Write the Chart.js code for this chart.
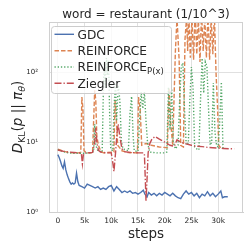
<!DOCTYPE html>
<html>
<head>
<meta charset="utf-8">
<script src="https://cdn.jsdelivr.net/npm/chart.js@4"></script>
<style>
html, body { margin: 0; padding: 0; background: #fff; }
</style>
</head>
<body>
<canvas id="klChart" width="251" height="251"></canvas>
<script>
// KL divergence per training step, word = restaurant

var titleText = 'word = restaurant (1/10^3)';
var xTicks = [0, 5000, 10000, 15000, 20000, 25000, 30000];
var yTicks = [1, 10, 100];
var yTickLabels = ['10\u2070', '10\u00b9', '10\u00b2'];

var gdcSteps = [0, 250, 500, 750, 1000, 1250, 1500, 1750, 2000, 2250, 2500, 2750, 3000, 3250, 3500, 3750, 4000, 4500, 5000, 5500, 6000, 6500, 7000, 7500, 8000, 8500, 9000, 9500, 10000, 10500, 11000, 11500, 12000, 12500, 13000, 13500, 14000, 14500, 15000, 15500, 16000, 16300, 16700, 17000, 17500, 18000, 18500, 19000, 19500, 20000, 20500, 21000, 21500, 22000, 22500, 23000, 23500, 24000, 24500, 25000, 25500, 26000, 26500, 27000, 27500, 28000, 28500, 29000, 29500, 30000, 30500, 30800, 31200, 31800];
var gdcValues = [6.6, 6.0, 5.3, 4.6, 4.2, 5.2, 4.0, 3.4, 3.0, 2.7, 2.5, 2.6, 2.5, 2.6, 3.6, 2.7, 2.4, 2.3, 2.2, 2.5, 2.4, 2.3, 2.2, 2.3, 2.1, 2.2, 2.1, 2.3, 2.4, 2.0, 2.3, 2.1, 1.9, 2.0, 1.9, 2.0, 1.85, 1.9, 1.8, 1.9, 2.05, 1.8, 1.65, 1.9, 1.75, 1.85, 1.7, 1.85, 1.75, 1.9, 1.8, 1.7, 1.85, 1.7, 1.6, 1.55, 1.8, 2.0, 1.8, 1.9, 1.7, 1.85, 1.6, 1.8, 1.7, 1.95, 1.7, 1.85, 1.65, 1.8, 2.0, 1.6, 1.65, 1.65];

var reinforceSteps = [0, 1000, 2000, 3000, 4000, 4300, 4500, 4700, 4900, 5500, 6500, 6700, 6900, 7100, 7300, 7600, 8000, 8500, 10500, 10700, 10900, 11200, 12000, 13000, 14900, 15100, 15400, 15700, 16500, 17500, 19000, 20500, 20800, 21100, 21500, 22000, 22300, 22700, 23000, 23500, 23800, 24100, 24300, 24500, 24800, 25100, 25400, 25700, 26000, 26300, 26600, 26900, 27200, 27500, 27800, 28100, 28400, 28700, 29000, 29300, 29600, 29900, 30100, 30500];
var reinforceValues = [7.9, 7.4, 7.1, 7.0, 7.0, 7.2, 44, 30, 7.5, 7.0, 7.0, 20, 55, 40, 12, 9, 7.5, 7.0, 7.2, 40, 25, 9, 7.5, 7.1, 7.0, 44, 30, 9, 9.5, 9, 8.5, 8.3, 60, 20, 9, 200, 600, 150, 9, 8.5, 300, 600, 200, 700, 160, 600, 150, 800, 180, 600, 140, 700, 200, 600, 160, 700, 150, 600, 180, 650, 100, 30, 9, 8.2];

var reinforcePxSteps = [0, 1000, 2000, 3000, 4500, 6000, 6700, 6900, 7100, 7500, 8300, 8500, 8700, 8900, 9100, 9300, 9500, 9700, 9900, 10300, 10500, 10800, 11000, 11300, 11600, 11900, 12200, 13200, 13500, 13800, 14100, 14300, 15000, 15300, 15600, 15900, 16200, 16500, 16800, 17200, 18500, 20000, 20400, 20700, 21000, 21300, 21600, 22000, 22500, 22800, 23100, 23400, 23700, 24000, 24400, 24700, 25000, 25300, 25600, 26000, 26400, 26700, 27000, 27300, 27600, 27900, 28200, 28500, 28800, 29100, 29400, 29700, 30000, 30300, 30600, 30900];
var reinforcePxValues = [7.8, 7.3, 7.0, 6.9, 6.9, 7.0, 7.3, 18, 9, 7.5, 7.2, 45, 140, 60, 160, 90, 150, 25, 8, 7.5, 30, 70, 20, 65, 40, 10, 8, 7.5, 25, 45, 12, 7.5, 7.3, 20, 52, 30, 52, 20, 9.6, 7.2, 7.0, 7.0, 7.2, 61, 15, 58, 10, 8, 9, 40, 120, 135, 30, 10, 9, 40, 118, 60, 8.5, 8, 7.7, 40, 158, 50, 140, 120, 30, 9, 10, 70, 14, 9, 8.5, 20, 72, 8.2];

var zieglerSteps = [0, 1000, 2000, 3000, 4000, 4400, 4600, 4800, 5200, 6500, 6900, 7100, 7300, 7600, 8000, 9000, 10000, 10300, 10500, 10800, 11100, 11300, 11600, 12000, 12500, 13500, 15000, 16000, 16200, 16400, 16500, 16700, 16900, 17200, 17600, 18200, 19000, 20000, 21000, 21800, 22300, 23000, 24000, 25000, 26000, 27000, 28000, 29000, 30000, 31000, 32000, 33000];
var zieglerValues = [7.7, 7.4, 7.2, 7.1, 7.0, 6.9, 4.9, 6.8, 7.0, 7.1, 10, 16, 10, 7.6, 7.2, 7.0, 7.0, 5, 3.8, 7, 14, 18, 12, 8, 7.3, 7.1, 7.0, 7.0, 6.8, 2.5, 1.45, 3.0, 7, 9.5, 11, 12, 11, 10, 9.0, 8.7, 10.8, 10, 9.4, 9.0, 8.7, 8.6, 8.4, 8.3, 8.2, 8.1, 8.0, 8.0];

var fontFamily = '"DejaVu Sans"';
var textColor = '#262626';

function toPoints(steps, values) {
    return steps.map(function (s, i) { return { x: s, y: values[i] }; });
}

var seriesStyles = [
    { label: 'GDC', sub: '', color: '#4C72B0', dash: [] },
    { label: 'REINFORCE', sub: '', color: '#DD8452', dash: [4.5, 2] },
    { label: 'REINFORCE', sub: 'P(x)', color: '#55A868', dash: [1.3, 1.9] },
    { label: 'Ziegler', sub: '', color: '#C44E52', dash: [7, 2, 1.3, 2] }
];

// titles, y label with subscripts, legend and top/right frame
var textPlugin = {
    id: 'textPlugin',
    afterDraw: function (chart) {
        var ctx = chart.ctx;
        var a = chart.chartArea;
        ctx.save();

        ctx.strokeStyle = '#d0d0d0';
        ctx.lineWidth = 1;
        ctx.setLineDash([]);
        ctx.beginPath();
        ctx.moveTo(a.left, a.top + 0.5);
        ctx.lineTo(a.right, a.top + 0.5);
        ctx.moveTo(a.right - 0.5, a.top);
        ctx.lineTo(a.right - 0.5, a.bottom);
        ctx.stroke();

        ctx.fillStyle = textColor;
        ctx.textBaseline = 'alphabetic';
        ctx.textAlign = 'center';
        ctx.font = '12px ' + fontFamily;
        ctx.fillText(titleText, (a.left + a.right) / 2, 18);
        ctx.font = '13.5px ' + fontFamily;
        ctx.fillText('steps', (a.left + a.right) / 2, 238);

        // y label: D_KL(p || pi_theta)
        var parts = [
            { t: 'D', it: true, size: 13.5, dy: 0 },
            { t: 'KL', it: false, size: 9.5, dy: 3 },
            { t: '(', it: false, size: 13.5, dy: 0 },
            { t: 'p', it: true, size: 13.5, dy: 0 },
            { t: ' || ', it: false, size: 13.5, dy: 0 },
            { t: '\u03c0', it: true, size: 13.5, dy: 0 },
            { t: '\u03b8', it: true, size: 9.5, dy: 3 },
            { t: ')', it: false, size: 13.5, dy: 0 }
        ];
        var total = 0;
        parts.forEach(function (p) {
            ctx.font = (p.it ? 'italic ' : '') + p.size + 'px ' + fontFamily;
            p.w = ctx.measureText(p.t).width;
            total += p.w;
        });
        ctx.translate(22, (a.top + a.bottom) / 2);
        ctx.rotate(-Math.PI / 2);
        ctx.textAlign = 'left';
        var px = -total / 2;
        parts.forEach(function (p) {
            ctx.font = (p.it ? 'italic ' : '') + p.size + 'px ' + fontFamily;
            ctx.fillText(p.t, px, p.dy);
            px += p.w;
        });
        ctx.setTransform(1, 0, 0, 1, 0, 0);

        // legend
        ctx.beginPath();
        ctx.roundRect(51.5, 26.5, 120, 67, 3);
        ctx.fillStyle = 'rgba(255,255,255,0.8)';
        ctx.fill();
        ctx.strokeStyle = '#cccccc';
        ctx.stroke();
        var rows = [34.3, 50.8, 67, 83.3];
        seriesStyles.forEach(function (s, i) {
            var y = rows[i];
            ctx.strokeStyle = s.color;
            ctx.lineWidth = 1.4;
            ctx.setLineDash(s.dash);
            ctx.beginPath();
            ctx.moveTo(54.5, y);
            ctx.lineTo(74, y);
            ctx.stroke();
            ctx.setLineDash([]);
            ctx.fillStyle = textColor;
            ctx.textAlign = 'left';
            ctx.font = '12.2px ' + fontFamily;
            ctx.fillText(s.label, 77.5, y + 4.4);
            if (s.sub) {
                var w = ctx.measureText(s.label).width;
                ctx.font = '8.5px ' + fontFamily;
                ctx.fillText(s.sub, 77.5 + w, y + 7.2);
            }
        });
        ctx.restore();
    }
};

var seriesData = [
    toPoints(gdcSteps, gdcValues),
    toPoints(reinforceSteps, reinforceValues),
    toPoints(reinforcePxSteps, reinforcePxValues),
    toPoints(zieglerSteps, zieglerValues)
];

var ctx = document.getElementById('klChart').getContext('2d');

var klChart = new Chart(ctx, {
    type: 'line',
    data: {
        datasets: seriesStyles.map(function (s, i) {
            return {
                label: s.label + s.sub,
                data: seriesData[i],
                borderColor: s.color,
                backgroundColor: s.color,
                borderWidth: 1.4,
                borderDash: s.dash,
                pointRadius: 0,
                tension: 0,
                fill: false,
                order: 3 - i
            };
        })
    },
    options: {
        responsive: false,
        animation: false,
        events: [],
        layout: { padding: { left: 0, right: 8, top: 22, bottom: 0 } },
        plugins: {
            legend: { display: false },
            title: { display: false },
            tooltip: { enabled: false }
        },
        scales: {
            x: {
                type: 'linear',
                min: -1650,
                max: 34650,
                afterBuildTicks: function (scale) {
                    scale.ticks = xTicks.map(function (v) { return { value: v }; });
                },
                afterFit: function (scale) { scale.height = 39; },
                grid: { color: '#e0e0e0', drawTicks: false },
                border: { color: '#d0d0d0' },
                ticks: {
                    padding: 5,
                    autoSkip: false,
                    maxRotation: 0,
                    color: textColor,
                    font: { family: 'DejaVu Sans', size: 7.5 },
                    callback: function (value) {
                        return value === 0 ? '0' : (value / 1000) + 'k';
                    }
                }
            },
            y: {
                type: 'logarithmic',
                min: 1,
                max: 520,
                afterBuildTicks: function (scale) {
                    scale.ticks = yTicks.map(function (v) { return { value: v }; });
                },
                afterFit: function (scale) { scale.width = 49; },
                grid: { color: '#e0e0e0', drawTicks: false },
                border: { color: '#d0d0d0' },
                ticks: {
                    padding: 11,
                    autoSkip: false,
                    color: textColor,
                    font: { family: 'DejaVu Sans', size: 7 },
                    callback: function (value, index) {
                        return yTickLabels[index];
                    }
                }
            }
        }
    },
    plugins: [textPlugin]
});
</script>
</body>
</html>
